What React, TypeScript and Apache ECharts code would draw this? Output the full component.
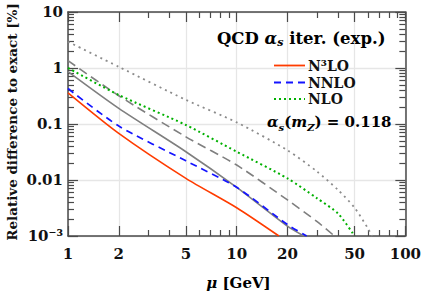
import React, { useEffect, useRef } from "react";
import * as echarts from "echarts";

// ---- data (μ in GeV, relative difference in %) ----
const muN3LO = [1, 2, 5, 10, 17.8];
const valN3LO = [0.36, 0.068, 0.0107, 0.0032, 0.001];
const muNNLO = [1, 2, 5, 10, 20, 26];
const valNNLO = [0.43, 0.092, 0.022, 0.0074, 0.0016, 0.001];
const muNLO = [1, 2, 5, 10, 20, 30, 40, 50];
const valNLO = [1.0, 0.33, 0.096, 0.032, 0.0107, 0.0047, 0.0025, 0.001];
const muExpN3LO = [1, 2, 5, 10, 20, 25];
const valExpN3LO = [0.86, 0.19, 0.032, 0.0074, 0.0015, 0.001];
const muExpNNLO = [1, 2, 5, 10, 20, 30, 38];
const valExpNNLO = [1.35, 0.32, 0.059, 0.0185, 0.0044, 0.0018, 0.001];
const muExpNLO = [1, 2, 5, 10, 20, 30, 40, 50, 60, 63.5];
const valExpNLO = [2.95, 1.05, 0.27, 0.107, 0.034, 0.0141, 0.0066, 0.0032, 0.00137, 0.001];

const legendNames = ["N³LO", "NNLO", "NLO"];

// ---- ticks ----
const xMajorTicks = [1, 2, 5, 10, 20, 50, 100];
const xMinorTicks = [3, 4, 6, 7, 8, 9, 30, 40, 60, 70, 80, 90];
const xTickLabels = ["1", "2", "5", "10", "20", "50", "100"];
const yMajorTicks = [0.001, 0.01, 0.1, 1, 10];
const yTickLabels = ["10⁻³", "0.01", "0.1", "1", "10"];
const yMinorTicks = [
  0.002, 0.003, 0.004, 0.005, 0.006, 0.007, 0.008, 0.009,
  0.02, 0.03, 0.04, 0.05, 0.06, 0.07, 0.08, 0.09,
  0.2, 0.3, 0.4, 0.5, 0.6, 0.7, 0.8, 0.9,
  2, 3, 4, 5, 6, 7, 8, 9,
];

const L = (v: number) => Math.log10(v);
const pts = (mu: number[], v: number[]) => mu.map((m, i) => [L(m), L(v[i])]);

const FONT = "DejaVu Serif";
const AXIS = "#4a4a4a";
const GRIDC = "#e6e6e6";
const TXT = "#111111";

const C_RED = "#ff3c00";
const C_BLUE = "#1414ff";
const C_GREEN = "#00b000";
const C_GRAY = "#7f7f7f";
const C_GRAY2 = "#8c8c8c";
const DASH_BLUE = [7, 5];
const DOT_GREEN = [2, 3];

const labelFrom = (ticks: number[], labels: string[]) => (v: number) => {
  const i = ticks.findIndex((t) => Math.abs(L(t) - v) < 1e-6);
  return i >= 0 ? labels[i] : "";
};

function xAxisDef(pos: "top" | "bottom", major: boolean, labels: boolean) {
  return {
    type: "value",
    position: pos,
    min: 0,
    max: 2,
    axisLine: { show: major, onZero: false, lineStyle: { color: AXIS, width: 1.5 } },
    axisTick: {
      show: true,
      inside: true,
      length: major ? 10 : 6,
      customValues: (major ? xMajorTicks : xMinorTicks).map(L),
      lineStyle: { color: AXIS, width: 1.2 },
    },
    axisLabel: labels
      ? {
          show: true,
          customValues: xMajorTicks.map(L),
          formatter: labelFrom(xMajorTicks, xTickLabels),
          fontFamily: FONT,
          fontWeight: "bold",
          fontSize: 15,
          color: TXT,
          margin: 10,
        }
      : { show: false },
    splitLine: labels ? { show: true, lineStyle: { color: GRIDC, width: 1.3 } } : { show: false },
  };
}

function yAxisDef(pos: "left" | "right", major: boolean, labels: boolean) {
  return {
    type: "value",
    position: pos,
    min: -3,
    max: 1,
    axisLine: { show: major, onZero: false, lineStyle: { color: AXIS, width: 1.5 } },
    axisTick: {
      show: true,
      inside: true,
      length: major ? 10 : 6,
      customValues: (major ? yMajorTicks : yMinorTicks).map(L),
      lineStyle: { color: AXIS, width: 1.2 },
    },
    axisLabel: labels
      ? {
          show: true,
          customValues: yMajorTicks.map(L),
          formatter: labelFrom(yMajorTicks, yTickLabels),
          fontFamily: FONT,
          fontWeight: "bold",
          fontSize: 15,
          color: TXT,
          margin: 5,
        }
      : { show: false },
    splitLine: labels ? { show: true, lineStyle: { color: GRIDC, width: 1.3 } } : { show: false },
  };
}

const base = { fontFamily: FONT, fontWeight: "bold", fill: TXT } as any;
const baseR = { fontFamily: FONT, fontWeight: "bold", color: TXT } as any;

export default function App() {
  const ref = useRef<HTMLDivElement>(null);
  useEffect(() => {
    if (!ref.current) return;
    const chart = echarts.init(ref.current, undefined, { renderer: "svg" });
    const line = (name: string, data: number[][], color: string, type: any, width: number) => ({
      name,
      type: "line",
      data,
      symbol: "none",
      silent: true,
      clip: true,
      smooth: 0.25,
      xAxisIndex: 0,
      yAxisIndex: 0,
      lineStyle: { color, width, type },
      itemStyle: { color },
    });
    const legendRow = (y: number, label: string, color: string, dash: number[] | null, w: number) => [
      {
        type: "line",
        z: 100,
        shape: { x1: 274, y1: y, x2: 305, y2: y },
        style: { stroke: color, lineWidth: w, lineDash: dash || undefined },
      },
      {
        type: "text",
        z: 100,
        x: 308,
        y,
        style: { text: label, ...base, fontSize: 14, lineHeight: 14, verticalAlign: "middle" },
      },
    ];
    chart.setOption({
      animation: false,
      grid: { left: 68, top: 12, width: 341, height: 224, containLabel: false },
      xAxis: [
        xAxisDef("bottom", true, true),
        xAxisDef("bottom", false, false),
        xAxisDef("top", true, false),
        xAxisDef("top", false, false),
      ],
      yAxis: [
        yAxisDef("left", true, true),
        yAxisDef("left", false, false),
        yAxisDef("right", true, false),
        yAxisDef("right", false, false),
      ],
      series: [
        line("expN3LO", pts(muExpN3LO, valExpN3LO), C_GRAY, "solid", 1.6),
        line("expNNLO", pts(muExpNNLO, valExpNNLO), C_GRAY, [9, 5], 1.6),
        line("expNLO", pts(muExpNLO, valExpNLO), C_GRAY2, [2, 4], 1.8),
        line(legendNames[2], pts(muNLO, valNLO), C_GREEN, DOT_GREEN, 2),
        line(legendNames[1], pts(muNNLO, valNNLO), C_BLUE, DASH_BLUE, 1.7),
        line(legendNames[0], pts(muN3LO, valN3LO), C_RED, "solid", 1.6),
      ],
      graphic: [
        {
          type: "text",
          z: 100,
          x: 217,
          y: 38,
          style: {
            text: "{t|QCD }{a|α}{s|s}{t| iter. }{g|(exp.)}",
            verticalAlign: "middle",
            rich: {
              t: { ...baseR, fontSize: 16.5, lineHeight: 20 },
              a: { ...baseR, fontStyle: "italic", fontSize: 16.5, lineHeight: 20 },
              s: { ...baseR, fontStyle: "italic", fontSize: 11, lineHeight: 10, verticalAlign: "bottom" },
              g: { ...baseR, color: "#9a9a9a", fontSize: 16.5, lineHeight: 20 },
            },
          },
        },
        ...legendRow(65.5, legendNames[0], C_RED, null, 1.8),
        ...legendRow(82.5, legendNames[1], C_BLUE, DASH_BLUE, 1.8),
        ...legendRow(99, legendNames[2], C_GREEN, DOT_GREEN, 2),
        {
          type: "text",
          z: 100,
          x: 267,
          y: 122,
          style: {
            text: "{a|α}{s|s}{t|(}{a|m}{s|Z}{t|) = 0.118}",
            verticalAlign: "middle",
            rich: {
              t: { ...baseR, fontSize: 15, lineHeight: 20 },
              a: { ...baseR, fontStyle: "italic", fontSize: 15, lineHeight: 20 },
              s: { ...baseR, fontStyle: "italic", fontSize: 10, lineHeight: 10, verticalAlign: "bottom" },
            },
          },
        },
        {
          type: "text",
          z: 100,
          x: 238.5,
          y: 283,
          style: {
            text: "{a|μ}{t| [GeV]}",
            align: "center",
            verticalAlign: "middle",
            rich: {
              t: { ...baseR, fontSize: 15, lineHeight: 20 },
              a: { ...baseR, fontStyle: "italic", fontSize: 15, lineHeight: 20 },
            },
          },
        },
        {
          type: "text",
          z: 100,
          x: 12,
          y: 122,
          rotation: Math.PI / 2,
          style: {
            text: "Relative difference to exact [%]",
            ...base,
            fontSize: 13.5,
            align: "center",
            verticalAlign: "middle",
          },
        },
      ],
    });
    return () => chart.dispose();
  }, []);
  return (
    <div
      ref={ref}
      style={{ position: "absolute", left: 0, top: 0, width: 424, height: 298, background: "#fff" }}
    />
  );
}
